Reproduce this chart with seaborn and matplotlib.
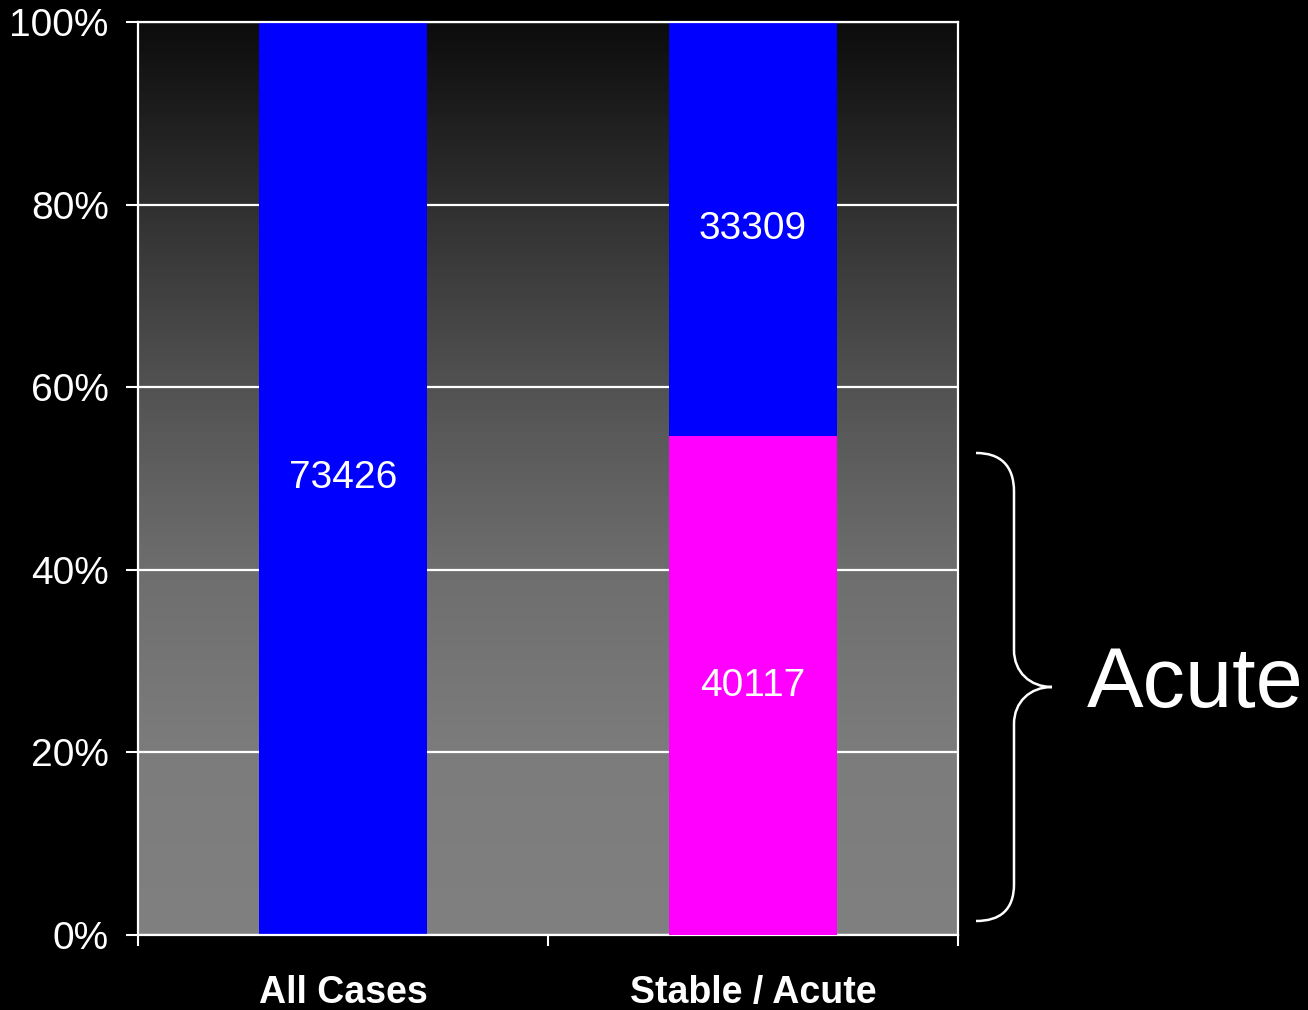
import numpy as np
import pandas as pd
import matplotlib
matplotlib.use("Agg")
import matplotlib.pyplot as plt
from matplotlib.colors import LinearSegmentedColormap
from matplotlib.path import Path
from matplotlib.patches import PathPatch
import seaborn as sns

# data
categories = ['All Cases', 'Stable / Acute']
stable_counts = [73426, 33309]   # blue part
acute_counts = [0, 40117]        # magenta part
total_cases = 73426
y_ticks = [0, 0.2, 0.4, 0.6, 0.8, 1.0]
y_tick_labels = ['0%', '20%', '40%', '60%', '80%', '100%']

df = pd.DataFrame({'category': categories, 'stable': stable_counts, 'acute': acute_counts})
df['acute_pct'] = df['acute'] / total_cases
df['total_pct'] = (df['stable'] + df['acute']) / total_cases

sns.set_style("ticks")
plt.rcParams['font.family'] = ['Liberation Sans', 'DejaVu Sans']

fig = plt.figure(figsize=(13.08, 10.10), dpi=100, facecolor='black')
ax = fig.add_axes([138 / 1308, 75 / 1010, 820 / 1308, 913 / 1010])
ax.set_facecolor('black')

# background gradient (dark top -> grey bottom)
grad_cmap = LinearSegmentedColormap.from_list(
    'bg', [(0.0, '#808080'), (0.2, '#7c7c7c'), (0.4, '#6e6e6e'),
           (0.6, '#525252'), (0.8, '#303030'), (1.0, '#0c0c0c')])
grad = np.linspace(0, 1, 256).reshape(-1, 1)
ax.imshow(grad, extent=[0, 1, 0, 1], transform=ax.transAxes, origin='lower',
          aspect='auto', cmap=grad_cmap, zorder=0.1)

# bars: blue full stack, magenta acute part in front
sns.barplot(data=df, x='category', y='total_pct', color='#0000ff', saturation=1,
            width=0.41, linewidth=0, ax=ax, zorder=2)
sns.barplot(data=df, x='category', y='acute_pct', color='#ff00ff', saturation=1,
            width=0.41, linewidth=0, ax=ax, zorder=3)

# segment labels
for i, row in df.iterrows():
    stable_mid = (row['acute'] + row['stable'] / 2) / total_cases
    ax.text(i, stable_mid, str(row['stable']), color='white', fontsize=28,
            ha='center', va='center', zorder=4)
    if row['acute'] > 0:
        ax.text(i, row['acute'] / 2 / total_cases, str(row['acute']), color='white',
                fontsize=28, ha='center', va='center', zorder=4)

ax.set_xlim(-0.5, 1.5)
ax.set_ylim(0, 1)
ax.set_axisbelow(True)
ax.yaxis.grid(True, color='white', linewidth=1.6)
ax.set_yticks(y_ticks)
ax.set_yticklabels(y_tick_labels)
ax.tick_params(axis='y', colors='white', labelsize=28, length=9, width=1.5, pad=12,
               direction='out')

ax.set_xticks([0, 1])
ax.set_xticklabels(categories, fontsize=27, fontweight='bold', color='white')
ax.set_xticks([-0.5, 0.5, 1.5], minor=True)
ax.tick_params(axis='x', which='major', length=0, pad=29)
ax.tick_params(axis='x', which='minor', colors='white', length=8, width=1.5,
               direction='out')
ax.set_xlabel('')
ax.set_ylabel('')
for s in ax.spines.values():
    s.set_color('white')
    s.set_linewidth(1.6)
    s.set_visible(True)

# curly brace for "Acute"
pts = [(976, 453), (1000, 453), (1014, 465), (1014, 492),
       (1014, 650),
       (1014, 672), (1030, 687), (1052, 687),
       (1030, 687), (1014, 702), (1014, 724),
       (1014, 884),
       (1014, 910), (1000, 921), (976, 921)]
codes = [Path.MOVETO, Path.CURVE4, Path.CURVE4, Path.CURVE4,
         Path.LINETO,
         Path.CURVE4, Path.CURVE4, Path.CURVE4,
         Path.CURVE4, Path.CURVE4, Path.CURVE4,
         Path.LINETO,
         Path.CURVE4, Path.CURVE4, Path.CURVE4]
verts = [(x / 1308, 1 - y / 1010) for x, y in pts]
brace = PathPatch(Path(verts, codes), transform=fig.transFigure, facecolor='none',
                  edgecolor='white', linewidth=1.8)
fig.patches.append(brace)
fig.text(1087 / 1308, 1 - 685 / 1010, 'Acute', color='white', fontsize=61,
         ha='left', va='center')

fig.savefig('out.png', dpi=100, facecolor='black')
